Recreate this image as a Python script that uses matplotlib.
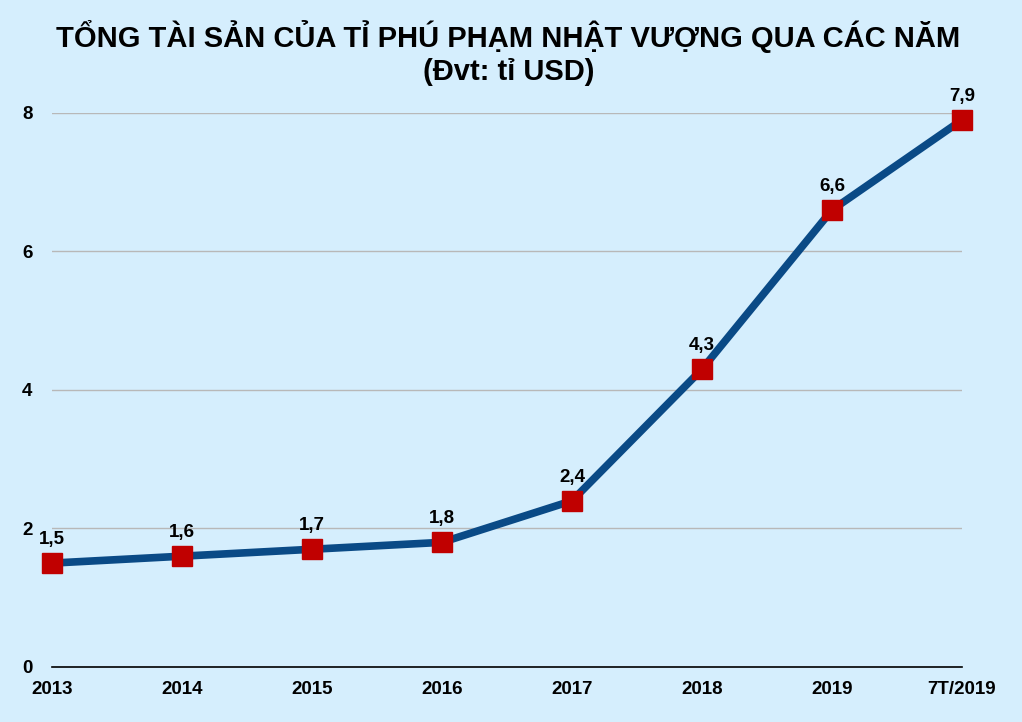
import matplotlib.pyplot as plt

plt.rcParams['font.family'] = ['Liberation Sans', 'DejaVu Sans']

# data
years = ['2013', '2014', '2015', '2016', '2017', '2018', '2019', '7T/2019']
assets = [1.5, 1.6, 1.7, 1.8, 2.4, 4.3, 6.6, 7.9]
labels = ['1,5', '1,6', '1,7', '1,8', '2,4', '4,3', '6,6', '7,9']
yticks = [0, 2, 4, 6, 8]

bg = '#d5eefd'
fig = plt.figure(figsize=(10.22, 7.22), dpi=100, facecolor=bg)
ax = fig.add_axes([0.0509, 0.0762, 0.8904, 0.7673], facecolor=bg)

x = list(range(len(years)))
ax.plot(x, assets, color='#0a4a86', linewidth=5.5, zorder=3,
        marker='s', markersize=14, markerfacecolor='#c00000',
        markeredgecolor='#c00000', clip_on=False)

for xi, v, t in zip(x, assets, labels):
    ax.annotate(t, (xi, v), xytext=(0, 11), textcoords='offset points',
                ha='center', va='bottom', fontsize=13.5, fontweight='bold')

ax.set_xlim(0, len(years) - 1)
ax.set_ylim(0, 8)
ax.set_xticks(x)
ax.set_xticklabels(years)
ax.set_yticks(yticks)
ax.set_yticklabels([str(v) for v in yticks])
ax.tick_params(length=0, labelsize=13.5)
ax.tick_params(axis='y', pad=14)
ax.tick_params(axis='x', pad=10)
for lab in ax.get_xticklabels() + ax.get_yticklabels():
    lab.set_fontweight('bold')

ax.grid(axis='y', color='#b8b8b8', linewidth=1)
ax.set_axisbelow(True)
for s in ['top', 'right', 'left']:
    ax.spines[s].set_visible(False)
ax.spines['bottom'].set_color('black')
ax.spines['bottom'].set_linewidth(1.2)

fig.text(0.4976, 0.949, 'TỔNG TÀI SẢN CỦA TỈ PHÚ PHẠM NHẬT VƯỢNG QUA CÁC NĂM',
         ha='center', va='center', fontsize=21, fontweight='bold')
fig.text(0.4976, 0.900, '(Đvt: tỉ USD)', ha='center', va='center',
         fontsize=21, fontweight='bold')

fig.savefig('out.png', dpi=100, facecolor=bg)
